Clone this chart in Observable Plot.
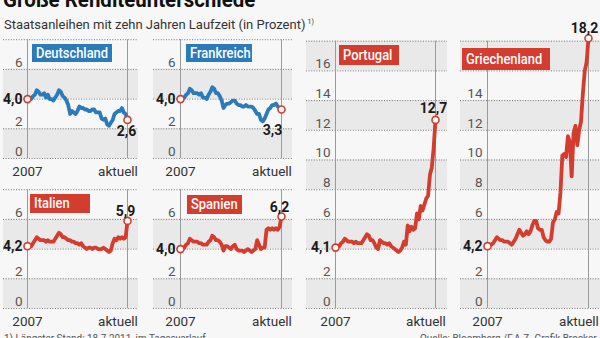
<!DOCTYPE html>
<html><head><meta charset="utf-8">
<script src="https://cdn.jsdelivr.net/npm/d3@7"></script>
<script src="https://cdn.jsdelivr.net/npm/@observablehq/plot@0.6"></script>
<style>
html,body{margin:0;padding:0;background:#f7f7f7;}
#chart{position:relative;width:600px;height:338px;overflow:hidden;background:#f7f7f7;font-family:Roboto,"Liberation Sans",sans-serif;}
.title{position:absolute;left:3px;top:-11px;font-size:22px;line-height:22px;font-weight:bold;color:#111;white-space:nowrap;transform:scaleX(0.93);transform-origin:0 0;}
.sub{position:absolute;left:4px;top:16px;font-size:13px;line-height:13px;color:#333;white-space:nowrap;}
.sub sup{font-size:7px;vertical-align:5px;margin-left:2px;}
.foot{position:absolute;top:333px;font-size:11px;line-height:11px;color:#555;white-space:nowrap;transform:scaleX(0.9);transform-origin:0 0;}
.box{position:absolute;color:#fff;font-size:15px;font-weight:500;box-sizing:border-box;padding-left:4px;white-space:nowrap;overflow:hidden;}
.box span{display:inline-block;transform:scaleX(0.86);transform-origin:0 50%;}
</style></head>
<body><div id="chart">
<div class="title">Große Renditeunterschiede</div>
<div class="sub">Staatsanleihen mit zehn Jahren Laufzeit (in Prozent)<sup>1)</sup></div>
<div class="foot" style="left:4px">1) Längster Stand: 18.7.2011, im Tagesverlauf</div>
<div class="foot" style="left:420px">Quelle: Bloomberg /F.A.Z.-Grafik Brocker</div>
</div>
<script>
// ---- data (monthly, Jan 2007 .. Jul 2011) ----
const countries = ["Deutschland","Frankreich","Italien","Spanien","Portugal","Griechenland"];
const deutschland = [4.0,4.1,4.0,4.2,4.3,4.6,4.5,4.3,4.3,4.4,4.1,4.3, 4.0,4.0,3.9,4.1,4.3,4.6,4.5,4.2,4.1,3.9,3.6,3.0, 3.2,3.1,3.0,3.2,3.5,3.4,3.4,3.3,3.3,3.2,3.2,3.3, 3.3,3.1,3.1,3.1,2.7,2.6,2.7,2.3,2.2,2.4,2.6,3.0, 3.1,3.2,3.2,3.4,3.1,3.0,2.6];
const frankreich = [4.0,4.1,4.1,4.3,4.4,4.7,4.6,4.4,4.4,4.4,4.3,4.4, 4.1,4.1,4.0,4.3,4.5,4.8,4.7,4.4,4.4,4.2,3.9,3.4, 3.6,3.7,3.7,3.8,3.9,3.9,3.7,3.6,3.6,3.5,3.5,3.6, 3.5,3.5,3.5,3.4,3.2,3.0,3.0,2.6,2.5,2.7,3.0,3.3, 3.4,3.6,3.6,3.7,3.5,3.4,3.3];
const italien = [4.2,4.2,4.2,4.4,4.6,4.8,4.7,4.6,4.6,4.6,4.5,4.6, 4.5,4.5,4.5,4.7,4.9,5.1,5.0,4.8,4.8,4.7,4.6,4.6, 4.5,4.5,4.4,4.4,4.3,4.4,4.2,4.1,4.0,4.1,4.1,4.0, 4.1,4.1,4.0,4.0,4.0,4.1,4.0,3.9,3.8,3.9,4.4,4.7, 4.6,4.8,4.7,4.8,4.7,4.8,5.9];
const spanien = [4.0,4.1,4.1,4.3,4.4,4.7,4.6,4.5,4.5,4.5,4.4,4.4, 4.3,4.3,4.3,4.5,4.6,4.9,4.8,4.6,4.6,4.5,4.3,3.9, 4.2,4.2,4.1,4.0,4.2,4.3,4.0,3.9,3.9,3.9,3.8,3.9, 4.0,3.9,3.8,3.9,4.0,4.6,4.3,4.0,4.1,4.1,5.3,5.4, 5.3,5.4,5.3,5.4,5.3,5.5,6.2];
const portugal = [4.1,4.2,4.2,4.4,4.5,4.7,4.6,4.5,4.5,4.5,4.4,4.5, 4.4,4.4,4.4,4.6,4.8,5.0,4.9,4.6,4.6,4.4,4.1,4.0, 4.6,4.5,4.4,4.4,4.3,4.4,4.2,4.1,4.0,3.9,3.8,3.9, 4.1,4.5,4.3,5.6,5.2,5.5,5.3,5.4,6.4,6.0,6.9,6.6, 7.0,7.4,7.6,9.0,9.5,10.8,12.7];
const griechenland = [4.2,4.3,4.3,4.4,4.6,4.8,4.7,4.6,4.6,4.5,4.5,4.5, 4.4,4.3,4.5,4.7,5.0,5.3,5.1,4.9,5.0,5.2,5.0,5.2, 5.6,5.9,5.9,5.4,5.3,5.3,4.8,4.6,4.5,4.5,4.7,5.8, 6.0,6.5,6.4,7.8,10.3,10.4,10.2,11.6,11.2,8.9,11.8,12.3, 11.0,12.0,12.6,14.5,16.0,16.6,18.2];
const startLabels = ["4,0","4,0","4,2","4,0","4,1","4,2"];
const endLabels = ["2,6","3,3","5,9","6,2","12,7","18,2"];
const xTickLabels = ["2007","aktuell"];
const ticksSmall = [0,2,4,6,8];
const ticksTall = [0,2,4,6,8,10,12,14,16,18];
const labelsSmall = [0,2,6];
const labelsPortugal = [0,2,6,8,10,12,14,16];
const labelsGreece = [0,2,6,8,10,12,14];
const series = [deutschland, frankreich, italien, spanien, portugal, griechenland];

// ---- layout ----
const BLUE = "#2b7bbb", RED = "#d43c2e", BAND = "#e9e9e9", UNIT = 14.85;
const FONT = 'Roboto,"Liberation Sans",sans-serif';
const layout = [
  {x0:27, x1:127, zero:158, ticks:ticksSmall, labels:labelsSmall, bandL:3, bandR:138, color:BLUE, box:[32,44,80,18], end:[-1,12]},
  {x0:180,x1:281, zero:158, ticks:ticksSmall, labels:labelsSmall, bandL:153,bandR:292, color:BLUE, box:[186,44,66,18], end:[-9,21]},
  {x0:27, x1:127, zero:308, ticks:ticksSmall, labels:labelsSmall, bandL:3, bandR:138, color:RED, box:[30,194,60,19], end:[-2,-9]},
  {x0:180,x1:281, zero:308, ticks:ticksSmall, labels:labelsSmall, bandL:153,bandR:292, color:RED, box:[187,195,55,19], end:[-2,-9]},
  {x0:335,x1:435, zero:308, ticks:ticksTall, labels:labelsPortugal, bandL:306,bandR:447, color:RED, box:[339,45,60,20], end:[-2,-11]},
  {x0:487,x1:588, zero:308, ticks:ticksTall, labels:labelsGreece, bandL:460,bandR:600, color:RED, box:[462,48,88,22], end:[-4,-10]}
];

const chart = document.getElementById("chart");
series.forEach((values, k) => {
  const L = layout[k];
  const n = values.length - 1;
  const max = L.ticks[L.ticks.length - 1];
  const bands = L.ticks.filter(t => t % 4 === 0 && t < max);
  const svg = Plot.plot({
    width: 600, height: 338,
    marginLeft: L.bandL, marginRight: 600 - L.bandR, marginTop: 0, marginBottom: 0,
    style: {background: "transparent", position: "absolute", left: "0px", top: "0px", overflow: "visible", fontFamily: FONT},
    x: {domain: [0, n], range: [L.x0, L.x1], axis: null},
    y: {domain: [0, max], range: [L.zero, L.zero - max * UNIT], axis: null},
    marks: [
      Plot.rect(bands, {y1: d => d, y2: d => d + 2, fill: BAND}),
      Plot.ruleY(L.ticks, {stroke: "#777", strokeWidth: 1, strokeDasharray: "1,1.6"}),
      Plot.ruleX([0, n], {y1: 0, y2: max, stroke: "#9a9a9a", strokeWidth: 1}),
      Plot.text(L.labels, {x: 0, y: d => d, text: d => String(d), textAnchor: "end", dx: -5, dy: -7, fontSize: 13.5, fill: "#555"}),
      Plot.text([xTickLabels[0]], {x: 0, y: 0, text: d => d, dy: 13, fontSize: 13.5, fill: "#333"}),
      Plot.text([xTickLabels[1]], {x: n, y: 0, text: d => d, dy: 13, dx: -9.5, fontSize: 13.5, fill: "#333"}),
      Plot.line(values, {x: (d, i) => i, y: d => d, stroke: L.color, strokeWidth: 3.8, strokeLinejoin: "round", strokeLinecap: "round"}),
      Plot.dot([0, n], {x: d => d, y: d => values[d], r: 3.5, fill: "white", stroke: RED, strokeWidth: 1.6}),
      Plot.text([startLabels[k]], {x: 0, y: values[0], text: d => d, textAnchor: "end", dx: -5, fontSize: 14, fontWeight: "bold", fill: "#1a1a1a"}),
      Plot.text([endLabels[k]], {x: n, y: values[n], text: d => d, dx: L.end[0], dy: L.end[1], fontSize: 14, fontWeight: "bold", fill: "#1a1a1a"})
    ]
  });
  chart.appendChild(svg);
  const b = document.createElement("div");
  b.className = "box";
  const s = document.createElement("span");
  s.textContent = countries[k];
  b.appendChild(s);
  Object.assign(b.style, {left: L.box[0] + "px", top: L.box[1] + "px", width: L.box[2] + "px", height: L.box[3] + "px", lineHeight: L.box[3] + "px", background: L.color});
  chart.appendChild(b);
});
</script>
</body></html>
